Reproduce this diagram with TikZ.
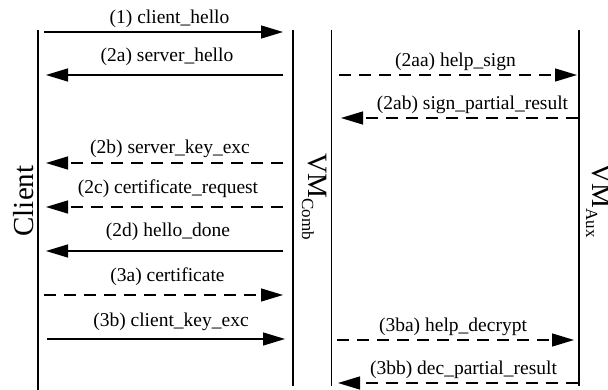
\documentclass[tikz,border=0pt]{standalone}
\usepackage{fontspec}
\setmainfont{Liberation Serif}
\usetikzlibrary{arrows.meta}
\tikzset{
  lifeline/.style={line width=1.3pt},
  msg/.style={line width=1.3pt, -{Triangle[length=22pt,width=13pt]}},
  optmsg/.style={msg, dash pattern=on 12pt off 8pt},
  lbl/.style={font=\fontsize{19.5}{22}\selectfont, anchor=base, inner sep=0pt},
  actor/.style={inner sep=0pt, anchor=base west, rotate=-90},
}
\newcommand{\vmname}[1]{\fontsize{28}{32}\selectfont VM\raisebox{-6pt}{\fontsize{17}{20}\selectfont #1}}
\begin{document}
\begin{tikzpicture}[x=1pt,y=-1pt]
\useasboundingbox (0,0) rectangle (608,390);

% lifelines
\draw[lifeline] (38,30) coordinate (cl top) -- (38,390) coordinate (cl bot);
\draw[lifeline] (293,30) coordinate (cb1 top) -- (293,386) coordinate (cb1 bot);
\draw[lifeline] (331.5,30) coordinate (cb2 top) -- (331.5,386) coordinate (cb2 bot);
\draw[lifeline] (579,30) coordinate (ax top) -- (579,386) coordinate (ax bot);

% participant names
\node[inner sep=0pt, anchor=base, rotate=90, font=\fontsize{29}{33}\selectfont] (client) at (33,201) {Client};
\node[actor] (comb) at (308,153) {\vmname{Comb}};
\node[actor] (aux) at (592,163) {\vmname{Aux}};

% endpoints of the messages
\coordinate (m1s) at (44,32);    \coordinate (m1e) at (283,32);
\coordinate (m2as) at (283,75);  \coordinate (m2ae) at (46,75);
\coordinate (m2bs) at (283,163); \coordinate (m2be) at (46,163);
\coordinate (m2cs) at (283,207); \coordinate (m2ce) at (46,207);
\coordinate (m2ds) at (283,251); \coordinate (m2de) at (46,251);
\coordinate (m3as) at (44,295);  \coordinate (m3ae) at (283,295);
\coordinate (m3bs) at (47,339);  \coordinate (m3be) at (285,339);
\coordinate (m2aas) at (339,75);  \coordinate (m2aae) at (577,75);
\coordinate (m2abs) at (578,118); \coordinate (m2abe) at (341,118);
\coordinate (m3bas) at (337,340); \coordinate (m3bae) at (574,340);
\coordinate (m3bbs) at (578,383); \coordinate (m3bbe) at (338,383);

% client <-> VM_Comb
\draw[msg] (m1s) -- (m1e);
\node[lbl] (l1) at (169.5,23.5) {(1) client\_hello};
\draw[msg] (m2as) -- (m2ae);
\node[lbl] (l2a) at (167,61.5) {(2a) server\_hello};
\draw[optmsg] (m2bs) -- (m2be);
\node[lbl] (l2b) at (170,153.5) {(2b) server\_key\_exc};
\draw[optmsg] (m2cs) -- (m2ce);
\node[lbl] (l2c) at (168,193.5) {(2c) certificate\_request};
\draw[msg] (m2ds) -- (m2de);
\node[lbl] (l2d) at (168,237) {(2d) hello\_done};
\draw[optmsg] (m3as) -- (m3ae);
\node[lbl] (l3a) at (167.5,281) {(3a) certificate};
\draw[msg] (m3bs) -- (m3be);
\node[lbl] (l3b) at (171,326) {(3b) client\_key\_exc};

% VM_Comb <-> VM_Aux
\draw[optmsg] (m2aas) -- (m2aae);
\node[lbl] (l2aa) at (455.5,67) {(2aa) help\_sign};
\draw[optmsg] (m2abs) -- (m2abe);
\node[lbl] (l2ab) at (472.5,110) {(2ab) sign\_partial\_result};
\draw[optmsg] (m3bas) -- (m3bae);
\node[lbl] (l3ba) at (453,331) {(3ba) help\_decrypt};
\draw[optmsg] (m3bbs) -- (m3bbe);
\node[lbl] (l3bb) at (463.5,374) {(3bb) dec\_partial\_result};
\end{tikzpicture}
\end{document}
